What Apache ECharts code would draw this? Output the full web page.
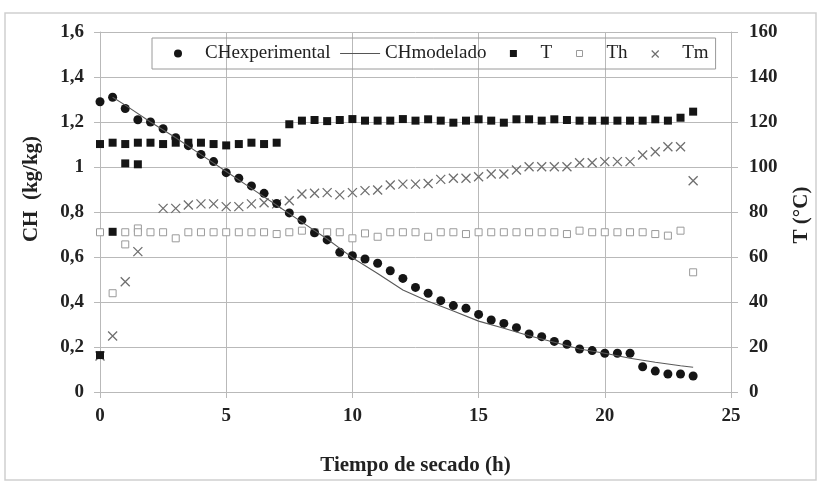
<!DOCTYPE html>
<html>
<head>
<meta charset="utf-8">
<title>CH y T vs tiempo de secado</title>
<script src="https://cdn.jsdelivr.net/npm/echarts@6/dist/echarts.min.js"></script>
<style>
    html, body { margin: 0; padding: 0; background: #fff; }
    #chart { width: 822px; height: 484px; }
</style>
</head>
<body>
<div id="chart"></div>
<script>
// tiempo de secado (h), one reading every half hour
var timeH = [0, 0.5, 1, 1.5, 2, 2.5, 3, 3.5, 4, 4.5, 5, 5.5, 6, 6.5, 7, 7.5, 8, 8.5, 9, 9.5,
    10, 10.5, 11, 11.5, 12, 12.5, 13, 13.5, 14, 14.5, 15, 15.5, 16, 16.5, 17, 17.5, 18, 18.5, 19, 19.5,
    20, 20.5, 21, 21.5, 22, 22.5, 23, 23.5];

var chExperimental = [1.29, 1.31, 1.26, 1.21, 1.20, 1.17, 1.13, 1.095, 1.056, 1.024, 0.975, 0.95, 0.916, 0.883, 0.838, 0.796, 0.764, 0.708, 0.676, 0.621,
    0.606, 0.591, 0.572, 0.539, 0.505, 0.465, 0.439, 0.406, 0.384, 0.372, 0.345, 0.32, 0.305, 0.286, 0.258, 0.246, 0.225, 0.212, 0.191, 0.184,
    0.172, 0.172, 0.172, 0.112, 0.093, 0.08, 0.08, 0.071];

var modelTime = [0.5, 1, 2, 3, 4, 5, 6, 7, 8, 9, 10, 11, 12, 13, 14, 15, 16, 17, 18, 19, 20, 21, 22, 23, 23.5];
var chModelado = [1.31, 1.275, 1.20, 1.13, 1.055, 0.98, 0.905, 0.83, 0.755, 0.68, 0.597, 0.527, 0.453, 0.403, 0.36, 0.315, 0.283, 0.25, 0.221, 0.191, 0.172, 0.15, 0.132, 0.117, 0.110];

var tempT = [110.2, 110.8, 110.2, 110.8, 110.8, 110.2, 110.8, 110.8, 110.8, 110.2, 109.6, 110.2, 110.8, 110.2, 110.8, 119.0, 120.6, 120.9, 120.4, 120.9,
    121.3, 120.6, 120.6, 120.6, 121.3, 120.6, 121.2, 120.6, 119.7, 120.6, 121.2, 120.6, 119.7, 121.2, 121.2, 120.6, 121.2, 120.9, 120.6, 120.6,
    120.6, 120.6, 120.6, 120.6, 121.2, 120.6, 121.9, 124.6];
// second set of T readings at the start (heating up)
var tRampTime = [0, 0.5, 1, 1.5];
var tRampVal = [16.4, 71.2, 101.6, 101.2];

var tempTh = [71.0, 43.9, 71.0, 72.7, 71.0, 71.0, 68.3, 71.0, 71.0, 71.0, 71.0, 71.0, 71.0, 71.0, 70.2, 71.0, 71.7, 71.0, 71.0, 71.0,
    68.3, 70.5, 69.0, 71.0, 71.0, 71.0, 69.0, 71.0, 71.0, 70.2, 71.0, 71.0, 71.0, 71.0, 71.0, 71.0, 71.0, 70.2, 71.7, 71.0,
    71.0, 71.0, 71.0, 71.0, 70.2, 69.5, 71.7, 53.2];
var thExtraTime = [1, 1.5];
var thExtraVal = [65.6, 71.0];

var tempTm = [16.0, 24.9, 49.0, 62.4, null, 81.6, 81.6, 83.1, 83.6, 83.6, 82.4, 82.4, 83.6, 84.1, 83.6, 85.0, 88.0, 88.3, 88.6, 87.6,
    88.6, 89.5, 89.8, 92.0, 92.4, 92.4, 92.7, 94.5, 95.0, 95.0, 95.7, 96.9, 96.9, 98.7, 100.1, 100.1, 100.1, 100.1, 101.9, 101.9,
    102.4, 102.4, 102.4, 105.3, 106.8, 109.0, 109.0, 93.9];

function pairs(xs, ys) {
    var out = [];
    for (var i = 0; i < xs.length; i++) {
        if (ys[i] !== null) out.push([xs[i], ys[i]]);
    }
    return out;
}

var serif = '"Liberation Serif", "Times New Roman", serif';
var gridColor = '#b9b9b9';
var crossPath = 'path://M0,0L10,10M10,0L0,10';

// legend icons: the leading M0,0 M40,8 fixes the box to 40x8 so nothing gets stretched
var iconBox = 'path://M0,0M40,8';
var iconDot = iconBox + 'M14,4a4,4 0 1,0 8,0a4,4 0 1,0 -8,0z';
var iconLine = iconBox + 'M0,4L40,4';
var iconSquare = iconBox + 'M14.5,0.5h7v7h-7z';
var iconSmallSquare = iconBox + 'M15,1h6v6h-6z';
var iconCross = iconBox + 'M14.5,1L21.5,8M21.5,1L14.5,8';

var chart = echarts.init(document.getElementById('chart'));

var option = {
    backgroundColor: '#fff',
    animation: false,
    grid: { left: 100, right: 91, top: 32, bottom: 92 },
    legend: {
        left: 152,
        top: 38,
        padding: [6, 7, 6, 8],
        itemGap: 9,
        itemWidth: 40,
        itemHeight: 8,
        borderColor: '#9a9a9a',
        borderWidth: 1,
        textStyle: { fontFamily: serif, fontSize: 19, color: '#222' },
        data: [
            { name: 'CHexperimental', icon: iconDot, itemStyle: { color: '#151515', opacity: 1 } },
            { name: 'CHmodelado', icon: iconLine, itemStyle: { color: 'transparent', borderColor: '#555', borderWidth: 1 } },
            { name: 'T', icon: iconSquare, itemStyle: { color: '#151515', opacity: 1 } },
            { name: 'Th', icon: iconSmallSquare, itemStyle: { color: '#fff', borderColor: '#9a9a9a', borderWidth: 1, opacity: 1 } },
            { name: 'Tm', icon: iconCross, itemStyle: { color: 'transparent', borderColor: '#6f6f6f', borderWidth: 1.2, opacity: 1 } }
        ]
    },
    xAxis: {
        type: 'value',
        min: 0,
        max: 25,
        interval: 5,
        name: 'Tiempo de secado (h)',
        nameLocation: 'middle',
        nameGap: 63,
        nameTextStyle: { fontFamily: serif, fontSize: 21, fontWeight: 'bold', color: '#222' },
        axisLine: { lineStyle: { color: gridColor } },
        axisTick: { show: true, length: 6, lineStyle: { color: gridColor } },
        axisLabel: { margin: 15, fontFamily: serif, fontSize: 19, fontWeight: 'bold', color: '#222' },
        splitLine: { show: true, lineStyle: { color: gridColor, width: 1 } }
    },
    yAxis: [
        {
            type: 'value',
            min: 0,
            max: 1.6,
            interval: 0.2,
            axisLine: { show: true, lineStyle: { color: gridColor } },
            axisTick: { show: true, length: 6, lineStyle: { color: gridColor } },
            axisLabel: {
                margin: 16,
                fontFamily: serif, fontSize: 19, fontWeight: 'bold', color: '#222',
                formatter: function (v) { return String(Math.round(v * 10) / 10).replace('.', ','); }
            },
            splitLine: { show: true, lineStyle: { color: gridColor, width: 1 } }
        },
        {
            type: 'value',
            min: 0,
            max: 160,
            interval: 20,
            position: 'right',
            axisLine: { show: true, lineStyle: { color: gridColor } },
            axisTick: { show: true, length: 7, lineStyle: { color: gridColor } },
            axisLabel: { margin: 18, fontFamily: serif, fontSize: 19, fontWeight: 'bold', color: '#222' },
            splitLine: { show: false }
        }
    ],
    graphic: [
        {
            type: 'rect',
            silent: true,
            z: -1,
            shape: { x: 5, y: 13, width: 811, height: 467 },
            style: { fill: 'none', stroke: '#cfcfcf', lineWidth: 1.5 }
        },
        {
            type: 'text',
            x: 32, y: 189,
            rotation: Math.PI / 2,
            style: {
                text: 'CH  (kg/kg)',
                font: 'bold 21px ' + serif,
                fill: '#222',
                align: 'center',
                verticalAlign: 'middle'
            }
        },
        {
            type: 'text',
            x: 802, y: 215,
            rotation: Math.PI / 2,
            style: {
                text: 'T (°C)',
                font: 'bold 21px ' + serif,
                fill: '#222',
                align: 'center',
                verticalAlign: 'middle'
            }
        }
    ],
    series: [
        {
            name: 'Th',
            type: 'scatter',
            yAxisIndex: 1,
            symbol: 'rect',
            symbolSize: 7,
            itemStyle: { color: '#fff', borderColor: '#9a9a9a', borderWidth: 1, opacity: 1 },
            data: pairs(timeH, tempTh).concat(pairs(thExtraTime, thExtraVal))
        },
        {
            name: 'Tm',
            type: 'scatter',
            yAxisIndex: 1,
            symbol: crossPath,
            symbolSize: 9,
            itemStyle: { color: 'transparent', borderColor: '#6f6f6f', borderWidth: 1.3, opacity: 1 },
            data: pairs(timeH, tempTm)
        },
        {
            name: 'CHmodelado',
            type: 'line',
            yAxisIndex: 0,
            symbol: 'none',
            smooth: false,
            lineStyle: { color: '#5a5a5a', width: 1.1 },
            itemStyle: { color: '#5a5a5a' },
            data: pairs(modelTime, chModelado)
        },
        {
            name: 'T',
            type: 'scatter',
            yAxisIndex: 1,
            symbol: 'rect',
            symbolSize: 8,
            itemStyle: { color: '#151515', opacity: 1 },
            data: pairs(timeH, tempT).concat(pairs(tRampTime, tRampVal))
        },
        {
            name: 'CHexperimental',
            type: 'scatter',
            yAxisIndex: 0,
            symbol: 'circle',
            symbolSize: 9,
            itemStyle: { color: '#151515', opacity: 1 },
            data: pairs(timeH, chExperimental)
        }
    ]
};

chart.setOption(option);
</script>
</body>
</html>
